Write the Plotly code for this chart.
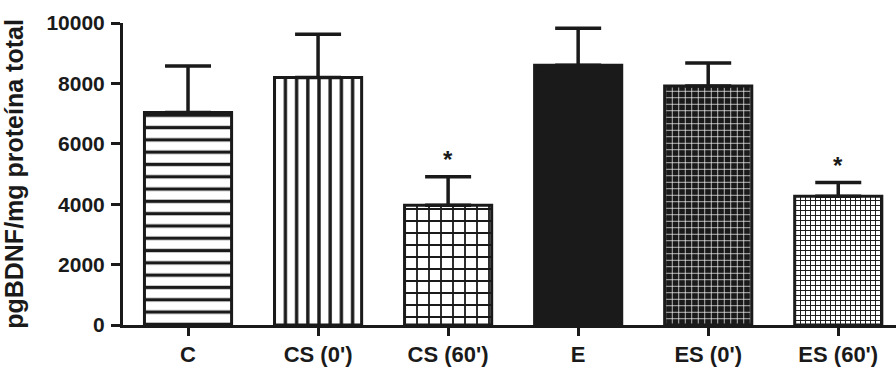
import plotly.graph_objects as go

# Group labels, means and (upper) SEM
groups = ["C", "CS (0')", "CS (60')", "E", "ES (0')", "ES (60')"]
means = [7034, 8199, 3962, 8597, 7917, 4263]
errors = [1543, 1432, 947, 1228, 757, 452]
significant = [False, False, True, False, False, True]
y_ticks = [0, 2000, 4000, 6000, 8000, 10000]

INK = "#1a1a1a"
FONT = "Arial"

# Fill style per group
patterns = [
    dict(shape="-", fgcolor=INK, bgcolor="white", size=12.3, solidity=0.27, fillmode="replace"),
    dict(shape="|", fgcolor=INK, bgcolor="white", size=11.2, solidity=0.3, fillmode="replace"),
    dict(shape="+", fgcolor=INK, bgcolor="white", size=12, solidity=0.28, fillmode="replace"),
    dict(shape="", fillmode="replace"),
    dict(shape="+", fgcolor="white", bgcolor=INK, size=6.5, solidity=0.2, fillmode="replace"),
    dict(shape="+", fgcolor=INK, bgcolor="white", size=5, solidity=0.35, fillmode="replace"),
]
colors = ["white", "white", "white", INK, INK, "white"]

fig = go.Figure()
for g, m, e, pat, col in zip(groups, means, errors, patterns, colors):
    fig.add_trace(go.Bar(
        x=[g], y=[m],
        width=0.67,
        marker=dict(color=col, line=dict(color=INK, width=3), pattern=pat),
        error_y=dict(type="data", symmetric=False, array=[e], arrayminus=[0],
                     color=INK, thickness=3.5, width=23),
        showlegend=False,
    ))

# Significance markers above the error bars
for g, m, e, s in zip(groups, means, errors, significant):
    if s:
        fig.add_annotation(x=g, y=m + e, text="*", showarrow=False,
                           yanchor="bottom", yshift=2,
                           font=dict(family=FONT, size=24, color=INK, weight="bold"))

fig.update_layout(
    width=896, height=367,
    margin=dict(l=123, r=0, t=23, b=34.5),
    plot_bgcolor="white", paper_bgcolor="white",
    barmode="overlay",
    font=dict(family=FONT, color=INK),
)
fig.update_xaxes(
    categoryorder="array", categoryarray=groups,
    range=[-0.5, 5.444],
    showline=True, linecolor=INK, linewidth=3,
    ticks="outside", ticklen=8, tickwidth=2.5, tickcolor=INK,
    tickfont=dict(family=FONT, size=22, color=INK, weight="bold"),
    showgrid=False, zeroline=False,
)
fig.update_yaxes(
    range=[0, 10000],
    tickvals=y_ticks, tickformat="d",
    showline=True, linecolor=INK, linewidth=3,
    ticks="outside", ticklen=9, tickwidth=2.5, tickcolor=INK,
    tickfont=dict(family=FONT, size=21, color=INK, weight="bold"),
    ticklabelstandoff=2,
    showgrid=False, zeroline=False,
    title=dict(text="pgBDNF/mg proteína total",
               font=dict(family=FONT, size=25, color=INK, weight="bold"), standoff=18),
)

fig.write_html("out.html")
